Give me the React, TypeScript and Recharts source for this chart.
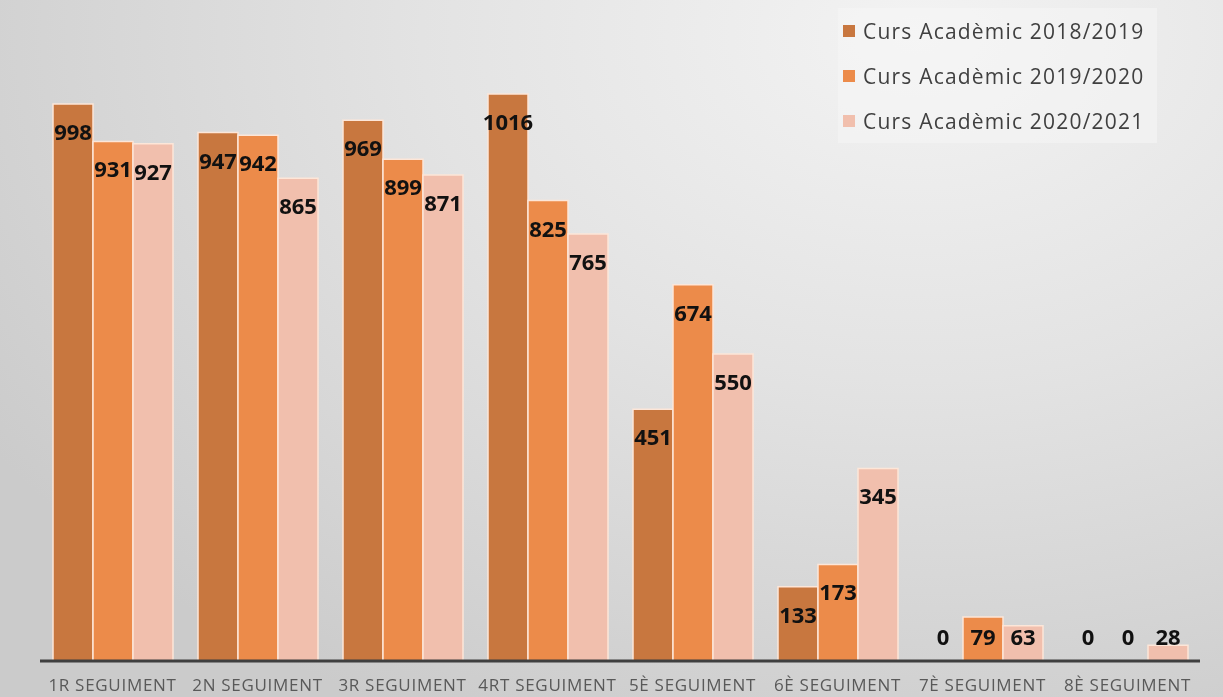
import { BarChart, Bar, XAxis, YAxis, Rectangle } from "recharts";

const categories = [
  "1R SEGUIMENT",
  "2N SEGUIMENT",
  "3R SEGUIMENT",
  "4RT SEGUIMENT",
  "5È SEGUIMENT",
  "6È SEGUIMENT",
  "7È SEGUIMENT",
  "8È SEGUIMENT",
];

const curs2018 = [998, 947, 969, 1016, 451, 133, 0, 0];
const curs2019 = [931, 942, 899, 825, 674, 173, 79, 0];
const curs2020 = [927, 865, 871, 765, 550, 345, 63, 28];

const series = [
  { key: "c2018", name: "Curs Acadèmic 2018/2019", color: "#c8773f", values: curs2018 },
  { key: "c2019", name: "Curs Acadèmic 2019/2020", color: "#ec8b4a", values: curs2019 },
  { key: "c2020", name: "Curs Acadèmic 2020/2021", color: "#f1bfad", values: curs2020 },
];

const data = categories.map((cat, i) => {
  const row: Record<string, string | number> = { cat };
  series.forEach((s) => {
    row[s.key] = s.values[i];
  });
  return row;
});

const font = "'Open Sans', sans-serif";

// labels sit ~27px under the bar top, but never lower than just above the axis
function ValueLabel(props: any) {
  const { x, y, width, value } = props;
  const ty = Math.min(Number(y) + 27, 636);
  return (
    <text
      x={Number(x) + Number(width) / 2}
      y={ty}
      textAnchor="middle"
      dominantBaseline="central"
      fontFamily={font}
      fontWeight={700}
      fontSize={22}
      fill="#111"
    >
      {value}
    </text>
  );
}

// zero bars get a 1px min size so their label is kept, but are not drawn
function BarShape(props: any) {
  if (props.value === 0 || (Array.isArray(props.value) && props.value[1] === 0)) {
    return <g />;
  }
  return <Rectangle {...props} />;
}

function LegendBox() {
  return (
    <div
      style={{
        position: "absolute",
        left: 838,
        top: 8,
        background: "rgba(245,245,245,0.55)",
        width: 319,
        height: 135,
        boxSizing: "border-box",
        paddingLeft: 5,
        fontFamily: font,
      }}
    >
      {series.map((s) => (
        <div
          key={s.key}
          style={{ display: "flex", alignItems: "center", height: 45 }}
        >
          <span
            style={{
              display: "inline-block",
              width: 12,
              height: 12,
              background: s.color,
              marginRight: 8,
            }}
          />
          <span style={{ fontSize: 21, letterSpacing: 1.2, color: "#404040" }}>
            {s.name}
          </span>
        </div>
      ))}
    </div>
  );
}

export default function App() {
  return (
    <div
      style={{
        position: "fixed",
        left: 0,
        top: 0,
        width: 1223,
        height: 697,
        background:
          "radial-gradient(ellipse 90% 110% at 75% 5%, #f3f3f3 0%, #e3e3e3 45%, #cbcbcb 100%)",
      }}
    >
      <BarChart
        width={1223}
        height={697}
        data={data}
        margin={{ top: 94, right: 23, bottom: 0, left: 40 }}
        barSize={40}
        barGap={0}
      >
        <XAxis
          dataKey="cat"
          height={36}
          tickLine={false}
          axisLine={{ stroke: "#3f3f3f", strokeWidth: 3 }}
          interval={0}
          tick={{
            fill: "#595959",
            fontSize: 17,
            letterSpacing: 0.7,
            fontFamily: font,
            dy: 10,
          }}
        />
        <YAxis hide domain={[0, 1016]} />
        {series.map((s) => (
          <Bar
            key={s.key}
            dataKey={s.key}
            name={s.name}
            fill={s.color}
            stroke="#fde6d8"
            strokeWidth={1.5}
            minPointSize={1}
            shape={BarShape}
            isAnimationActive={false}
            label={ValueLabel}
          />
        ))}
      </BarChart>
      <LegendBox />
    </div>
  );
}
